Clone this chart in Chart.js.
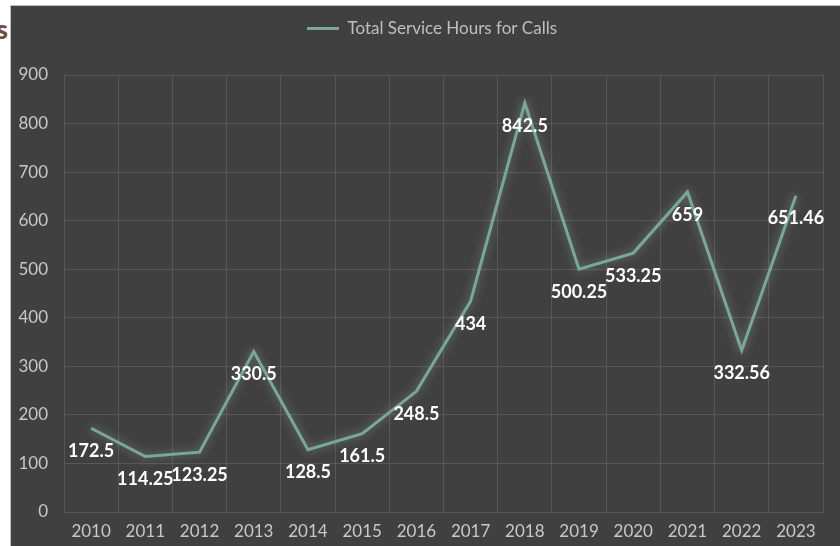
<!DOCTYPE html>
<html>
<head>
<meta charset="utf-8">
<script src="https://cdn.jsdelivr.net/npm/chart.js@4"></script>
<style>
  html, body { margin: 0; padding: 0; background: #ffffff; width: 840px; height: 546px; overflow: hidden; }
  #frame { position: absolute; left: 10px; top: 5px; width: 830px; height: 541px; background: #404040; border-left: 1px solid #bdbdbd; border-top: 1px solid #bdbdbd; box-sizing: border-box; }
  #cut { position: absolute; right: 832px; top: 12px; font-family: "Lato", sans-serif; font-weight: 900; font-size: 27px; color: #6e4c3e; white-space: nowrap; }
  canvas { display: block; }
</style>
</head>
<body>
<div id="cut">s</div>
<div id="frame"><canvas id="c" width="829" height="540"></canvas></div>
<script>
const years = ["2010","2011","2012","2013","2014","2015","2016","2017","2018","2019","2020","2021","2022","2023"];
const serviceHours = [172.5,114.25,123.25,330.5,128.5,161.5,248.5,434,842.5,500.25,533.25,659,332.56,651.46];
const seriesName = "Total Service Hours for Calls";

const legendGapPlugin = {
  id: 'legendGap',
  afterInit(chart) {
    const lg = chart.legend;
    if (lg && !lg._gapPatched) {
      const origFit = lg.fit;
      lg.fit = function () { origFit.call(this); this.height += 28; };
      const origDraw = lg.draw;
      lg.draw = function () {
        const ctx = this.ctx;
        ctx.save();
        ctx.translate(15, 0);
        origDraw.call(this);
        ctx.restore();
      };
      lg._gapPatched = true;
    }
  }
};

const glowPlugin = {
  id: 'glow',
  beforeDatasetDraw(chart) {
    const ctx = chart.ctx;
    ctx.save();
    ctx.shadowColor = 'rgba(190,225,210,0.45)';
    ctx.shadowBlur = 10;
  },
  afterDatasetDraw(chart) {
    chart.ctx.restore();
  }
};

const labelPlugin = {
  id: 'valueLabels',
  afterDatasetsDraw(chart) {
    const ctx = chart.ctx;
    const meta = chart.getDatasetMeta(0);
    ctx.save();
    ctx.font = 'bold 18px Lato, sans-serif';
    ctx.fillStyle = '#ffffff';
    ctx.textAlign = 'center';
    ctx.textBaseline = 'middle';
    meta.data.forEach((pt, i) => {
      ctx.fillText(String(serviceHours[i]), pt.x, pt.y + 23);
    });
    ctx.restore();
  }
};

Chart.defaults.font.family = 'Lato, sans-serif';
new Chart(document.getElementById('c'), {
  type: 'line',
  data: {
    labels: years,
    datasets: [{
      label: seriesName,
      data: serviceHours,
      borderColor: '#78a898',
      backgroundColor: '#78a898',
      borderWidth: 3,
      pointRadius: 0,
      tension: 0,
      fill: false
    }]
  },
  options: {
    responsive: false,
    animation: false,
    layout: { padding: { left: 0, right: 17, top: 2, bottom: 0 } },
    plugins: {
      legend: {
        position: 'top',
        labels: {
          color: '#bfbfbf',
          font: { size: 17 },
          boxWidth: 32,
          boxHeight: 3,
          padding: 12,
          generateLabels(chart) {
            return [{ text: seriesName, fillStyle: '#78a898', strokeStyle: '#78a898', lineWidth: 0, fontColor: '#bfbfbf', datasetIndex: 0 }];
          }
        }
      },
      tooltip: { enabled: false }
    },
    scales: {
      x: {
        offset: true,
        grid: { color: '#575757', lineWidth: 1, offset: true, drawTicks: false },
        border: { display: false },
        ticks: { color: '#c8c8c8', font: { size: 17 }, padding: 9, maxRotation: 0 },
        afterFit(s) { s.height = 34; }
      },
      y: {
        min: 0, max: 900,
        grid: { color: '#575757', lineWidth: 1, drawTicks: false },
        border: { display: false },
        ticks: { stepSize: 100, color: '#c8c8c8', font: { size: 17 }, padding: 16 },
        afterFit(s) { s.width = 53; }
      }
    }
  },
  plugins: [legendGapPlugin, glowPlugin, labelPlugin]
});
</script>
</body>
</html>
